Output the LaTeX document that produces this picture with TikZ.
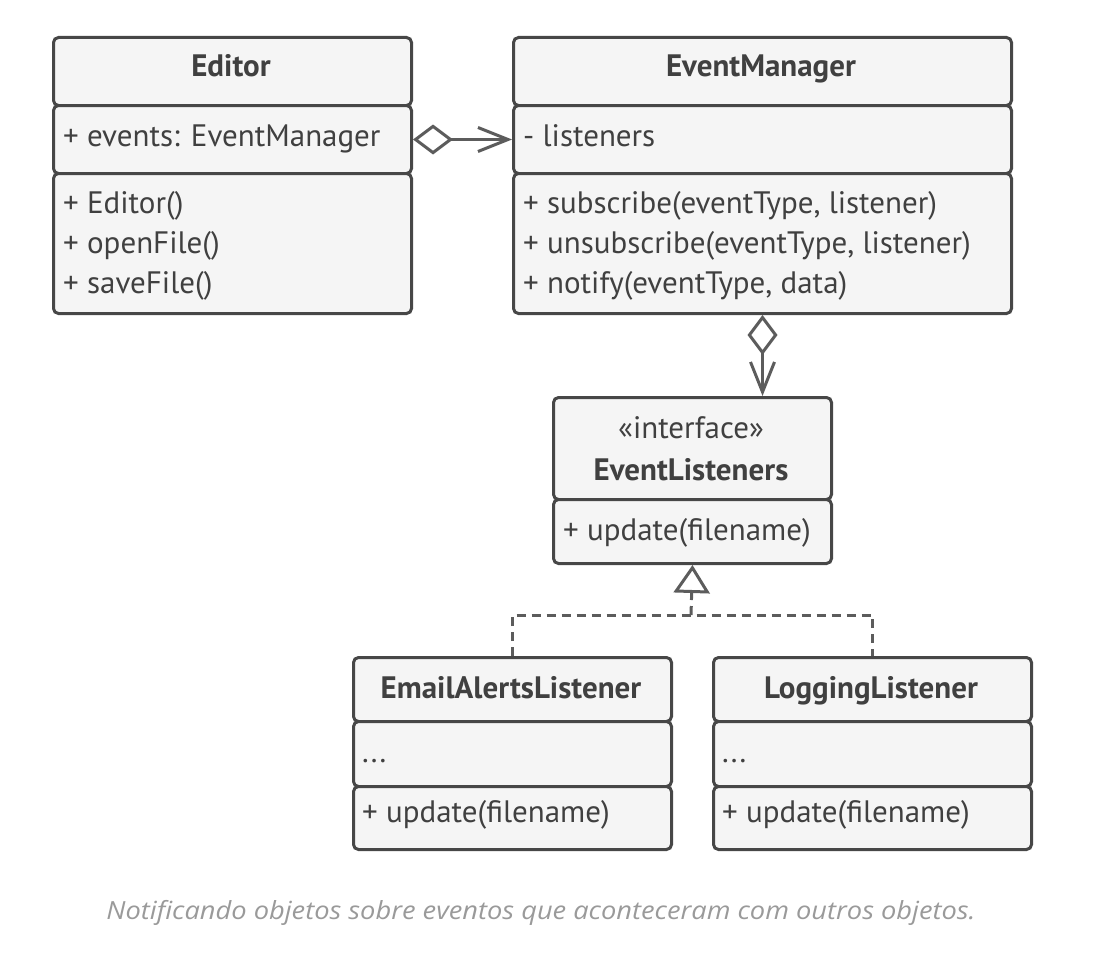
\documentclass[tikz,border=0pt]{standalone}
\usepackage{fontspec}
\setmainfont{PT Sans}
\newfontfamily\capfont{Open Sans}
\usetikzlibrary{arrows.meta}
\definecolor{ink}{HTML}{404040}
\definecolor{edge}{HTML}{474747}
\definecolor{boxfill}{HTML}{F5F5F5}
\definecolor{conn}{HTML}{5C5C5C}
\definecolor{capgray}{HTML}{9A9A9A}
\newcommand{\comp}[5]{\node[comp, minimum width=#4pt, minimum height=#5pt, anchor=north west] (#1) at (#2,#3) {};}
\begin{document}
\begin{tikzpicture}[x=1pt,y=-1pt,
  every node/.style={font=\fontsize{31}{36}\selectfont, text=ink},
  comp/.style={draw=edge, fill=boxfill, line width=3pt, rounded corners=5pt, inner sep=0pt},
  txt/.style={anchor=base west, inner sep=0pt},
  ttl/.style={anchor=base, inner sep=0pt, font=\fontsize{31}{36}\selectfont\bfseries},
  assoc/.style={draw=conn, line width=3pt, {Diamond[open, fill=white, length=40pt, width=30pt]}-{Straight Barb[length=30pt, width=24pt]}},
  real/.style={draw=conn, line width=3pt, dash pattern=on 9pt off 6pt, -{Triangle[open, fill=white, length=28pt, width=36pt]}},
  realline/.style={draw=conn, line width=3pt, dash pattern=on 9pt off 6pt},
  capt/.style={font=\capfont\itshape\fontsize{25}{29}\selectfont, text=capgray, inner sep=0pt, anchor=base}
]
\useasboundingbox (0,0) rectangle (1102,966);
% Editor
\comp{edh}{52}{36}{358}{68}
\comp{eda}{52}{104}{358}{68}
\comp{edm}{52}{172}{358}{140}
\node[ttl] (edt) at (231,77) {Editor};
\node[txt] (ed1) at (63,146) {+ events: EventManager};
\node[txt] (ed2) at (63,213) {+ Editor()};
\node[txt] (ed3) at (63,253) {+ openFile()};
\node[txt] (ed4) at (63,293) {+ saveFile()};
% EventManager
\comp{emh}{512}{36}{498}{68}
\comp{ema}{512}{104}{498}{68}
\comp{emm}{512}{172}{498}{140}
\node[ttl] (emt) at (761,77) {EventManager};
\node[txt] (em1) at (523,146) {- listeners};
\node[txt] (em2) at (523,213) {+ subscribe(eventType, listener)};
\node[txt] (em3) at (523,253) {+ unsubscribe(eventType, listener)};
\node[txt] (em4) at (523,293) {+ notify(eventType, data)};
% EventListeners
\comp{elh}{552}{396}{278}{102}
\comp{elm}{552}{498}{278}{64}
\node[txt, anchor=base] (elst) at (691,438) {«interface»};
\node[ttl] (elt) at (691,480) {EventListeners};
\node[txt] (el1) at (563,540) {+ update(filename)};
% EmailAlertsListener
\comp{eah}{352}{656}{318}{64}
\comp{eaa}{352}{720}{318}{65}
\comp{eam}{352}{785}{318}{63}
\node[ttl] (eat) at (511,698) {EmailAlertsListener};
\node[txt] (ea1) at (362,762) {...};
\node[txt] (ea2) at (362,822) {+ update(filename)};
% LoggingListener
\comp{lgh}{712}{656}{318}{64}
\comp{lga}{712}{720}{318}{65}
\comp{lgm}{712}{785}{318}{63}
\node[ttl] (lgt) at (871,698) {LoggingListener};
\node[txt] (lg1) at (722,762) {...};
\node[txt] (lg2) at (722,822) {+ update(filename)};
% connectors
\draw[assoc] (eda.east) -- (ema.west);
\draw[assoc] (emm.south) -- (emm.south |- elh.north);
\coordinate (jn) at (691,615);
\draw[real] (jn) -- (elm.south);
\draw[realline] (eah.north) |- (jn) -| (lgh.north);
% caption
\node[capt] (cap) at (541,919) {\scalebox{1.09}[1]{Notificando objetos sobre eventos que aconteceram com outros objetos.}};
\end{tikzpicture}
\end{document}
